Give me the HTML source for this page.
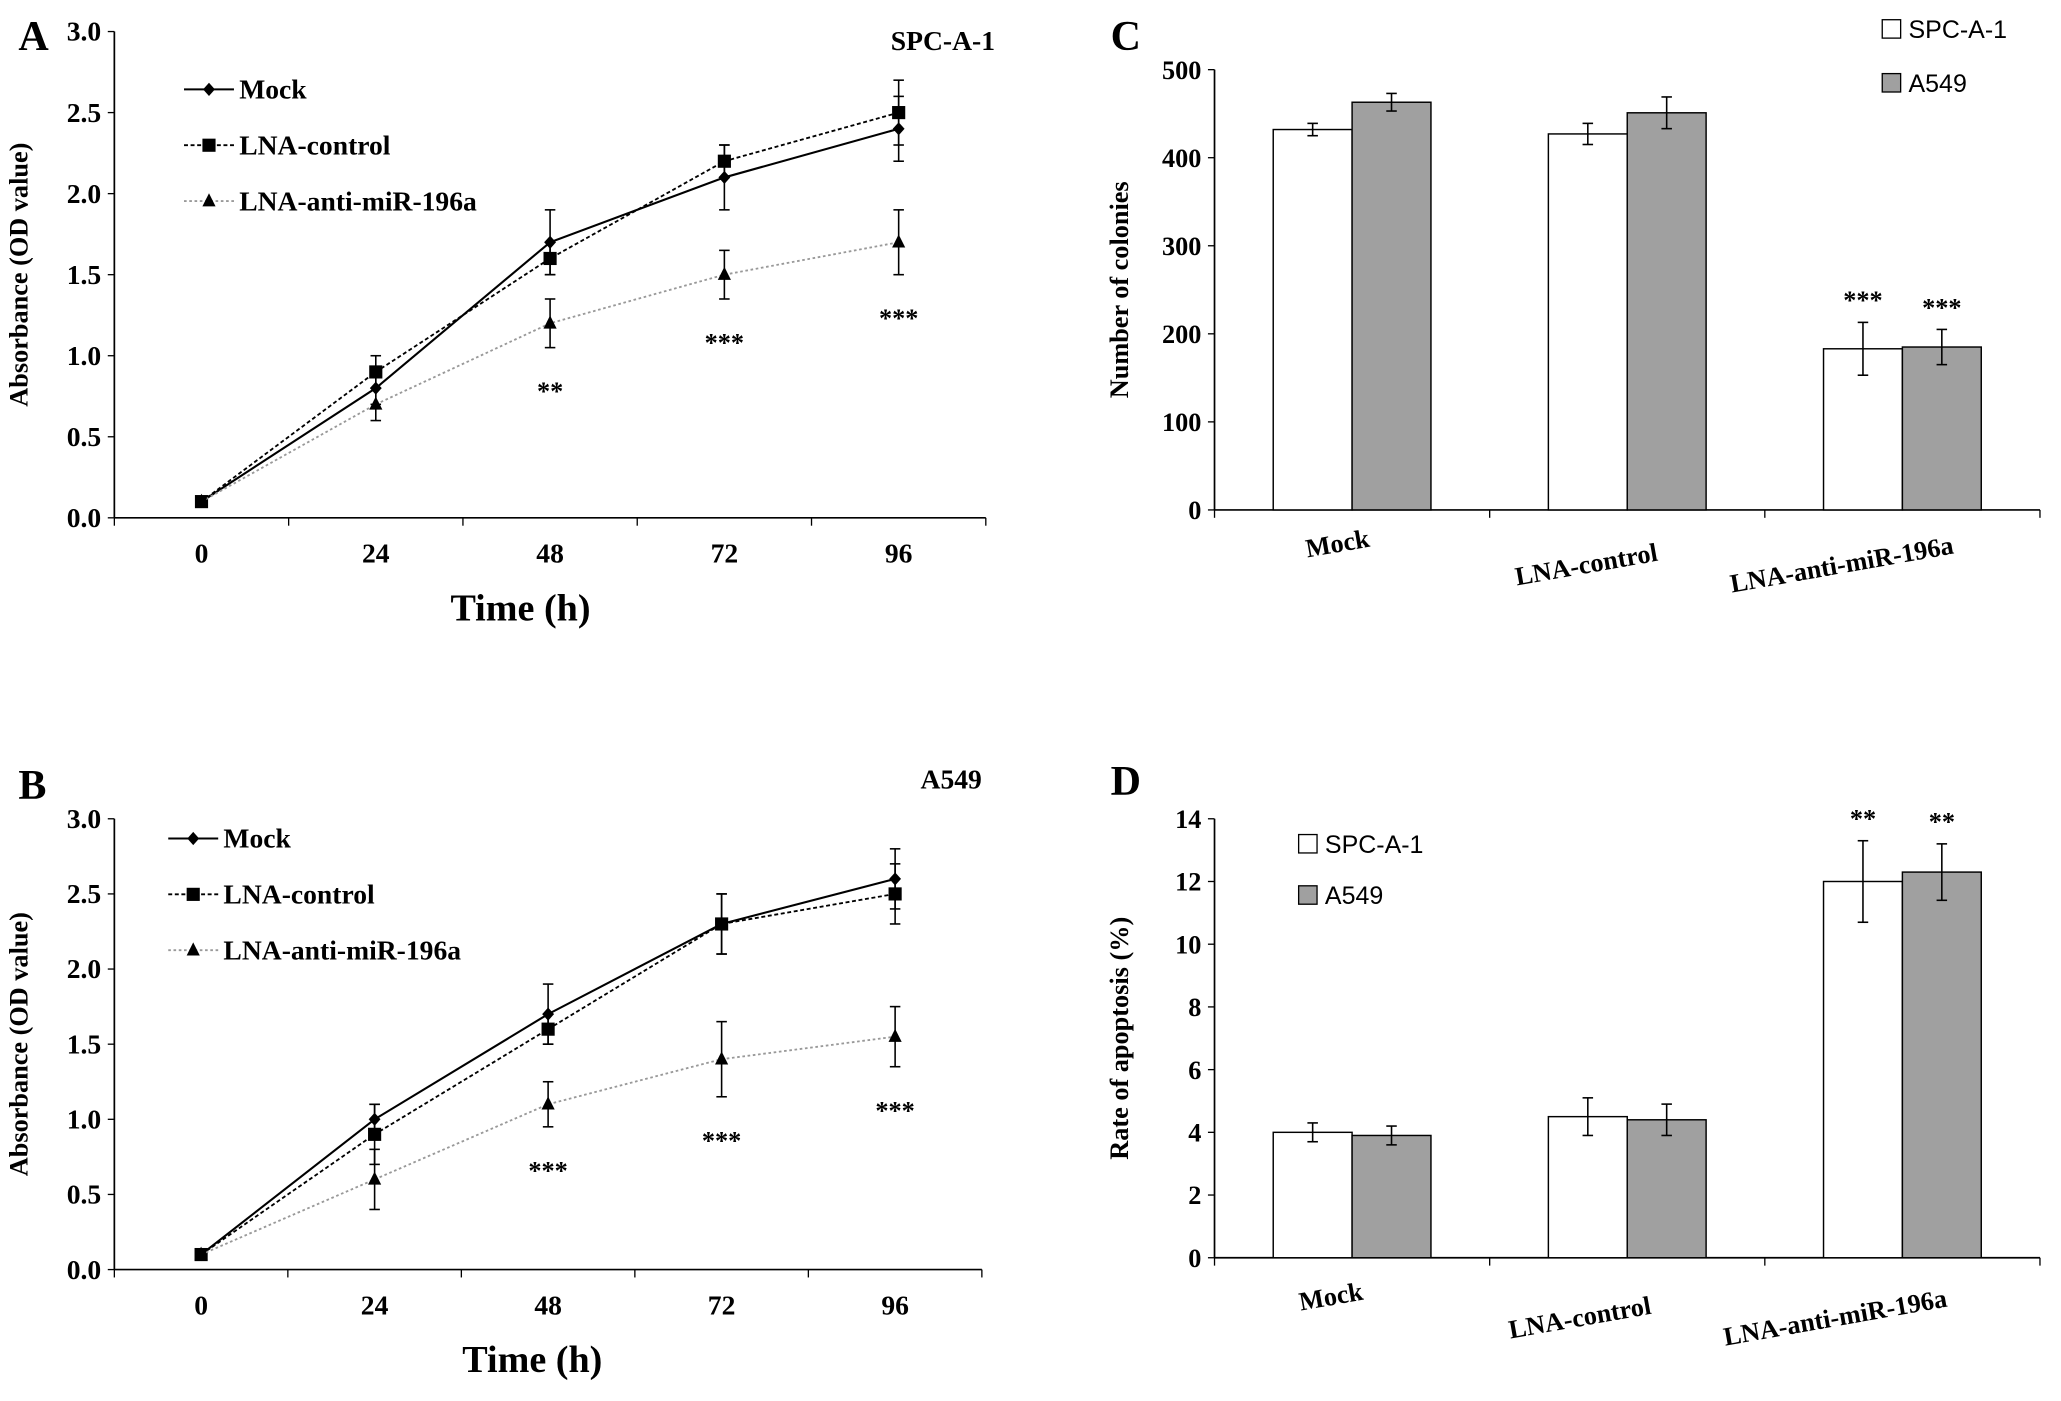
<!DOCTYPE html>
<html><head><meta charset="utf-8"><style>
html,body{margin:0;padding:0;background:#fff}
svg{display:block}
text{font-family:"Liberation Serif",serif;font-weight:bold;fill:#000}
.sans{font-family:"Liberation Sans",sans-serif;font-weight:normal}
</style></head><body>
<svg id="fig" width="2061" height="1401" viewBox="0 0 1568 1066" preserveAspectRatio="none" xmlns="http://www.w3.org/2000/svg"></svg>
<script>
// ---------- Data ----------
const timeLabels = ["0","24","48","72","96"];
const lineTicks = ["0.0","0.5","1.0","1.5","2.0","2.5","3.0"];
const seriesNames = ["Mock","LNA-control","LNA-anti-miR-196a"];
const aMock = [0.1,0.8,1.7,2.1,2.4];
const aMockErr = [0.02,0.1,0.2,0.2,0.2];
const aCtrl = [0.1,0.9,1.6,2.2,2.5];
const aCtrlErr = [0.02,0.1,0.1,0.1,0.2];
const aAnti = [0.1,0.7,1.2,1.5,1.7];
const aAntiErr = [0.02,0.1,0.15,0.15,0.2];
const aStars = ["","","**","***","***"];
const bMock = [0.1,1.0,1.7,2.3,2.6];
const bMockErr = [0.02,0.1,0.2,0.2,0.2];
const bCtrl = [0.1,0.9,1.6,2.3,2.5];
const bCtrlErr = [0.02,0.2,0.1,0.2,0.2];
const bAnti = [0.1,0.6,1.1,1.4,1.55];
const bAntiErr = [0.02,0.2,0.15,0.25,0.2];
const bStars = ["","","***","***","***"];
const groups = ["Mock","LNA-control","LNA-anti-miR-196a"];
const cSPC = [432,427,183];
const cSPCErr = [7,12,30];
const cA549 = [463,451,185];
const cA549Err = [10,18,20];
const cStars = ["","","***"];
const cTicks = [0,100,200,300,400,500];
const dSPC = [4.0,4.5,12.0];
const dSPCErr = [0.3,0.6,1.3];
const dA549 = [3.9,4.4,12.3];
const dA549Err = [0.3,0.5,0.9];
const dStars = ["","","**"];
const dTicks = [0,2,4,6,8,10,12,14];

const NS="http://www.w3.org/2000/svg";
const svg=document.getElementById('fig');
function el(tag,attrs,parent,txt){const e=document.createElementNS(NS,tag);for(const k in attrs)e.setAttribute(k,attrs[k]);if(txt!==undefined)e.textContent=txt;(parent||svg).appendChild(e);return e;}
function T(x,y,s,size,anchor,parent,extra){const e=el('text',Object.assign({x:x,y:y,'font-size':size,'text-anchor':anchor||'start'},extra||{}),parent,s);return e;}

function lineChart(cfg){
  const g=el('g',{});
  
  
  const X0=cfg.x0,X1=cfg.x1,Y0=cfg.y0,Y1=cfg.y1;
  const ys=v=>Y0-(v/3)*(Y0-Y1);
  const step=(X1-X0)/5;
  const xs=i=>X0+step*(i+0.5);
  el('line',{x1:X0,y1:Y1,x2:X0,y2:Y0,stroke:'#000','stroke-width':1.3},g);
  el('line',{x1:X0,y1:Y0,x2:X1,y2:Y0,stroke:'#000','stroke-width':1.3},g);
  lineTicks.forEach((t,i)=>{const y=ys(i*0.5);el('line',{x1:X0-5,y1:y,x2:X0,y2:y,stroke:'#000'},g);
    const tx=T(X0-10,y+7,t,21,'end',g);});
  for(let i=0;i<=5;i++){el('line',{x1:X0+step*i,y1:Y0,x2:X0+step*i,y2:Y0+6,stroke:'#000'},g);}
  timeLabels.forEach((t,i)=>{const tx=T(xs(i),Y0+34,t,21,'middle',g);});
  const xt=T(cfg.timeX,Y0+78,'Time (h)',29,'middle',g);
  const yt=T(0,0,'Absorbance (OD value)',20,'middle',g,{transform:`translate(${X0-66},${(Y0+Y1)/2}) rotate(-90)`});
  
  const styles=[{c:'#000',d:'',m:'diamond',w:1.6},{c:'#000',d:'3,2',m:'square',w:1.4},{c:'#999',d:'2,2',m:'tri',w:1.4}];
  const data=[[cfg.mock,cfg.mockErr],[cfg.ctrl,cfg.ctrlErr],[cfg.anti,cfg.antiErr]];
  function marker(m,x,y,p){
    if(m==='diamond')el('path',{d:`M${x},${y-5}L${x+4.5},${y}L${x},${y+5}L${x-4.5},${y}Z`,fill:'#000'},p);
    else if(m==='square')el('rect',{x:x-5,y:y-5,width:10,height:10,fill:'#000'},p);
    else el('path',{d:`M${x},${y-6}L${x+5},${y+4}L${x-5},${y+4}Z`,fill:'#000'},p);
  }
  data.forEach((d,si)=>{
    const sg=el('g',{},g);
    
    
    const st=styles[si];
    el('polyline',{points:d[0].map((v,i)=>xs(i)+','+ys(v)).join(' '),fill:'none',stroke:st.c,'stroke-width':st.w,'stroke-dasharray':st.d},sg);
    d[0].forEach((v,i)=>{const x=xs(i),e=d[1][i];
      el('line',{x1:x,y1:ys(v-e),x2:x,y2:ys(v+e),stroke:'#000','stroke-width':1.2},sg);
      el('line',{x1:x-4,y1:ys(v-e),x2:x+4,y2:ys(v-e),stroke:'#000','stroke-width':1.2},sg);
      el('line',{x1:x-4,y1:ys(v+e),x2:x+4,y2:ys(v+e),stroke:'#000','stroke-width':1.2},sg);
      marker(st.m,x,ys(v),sg);});
  });
  cfg.stars.forEach((s,i)=>{if(!s)return;const y=ys(cfg.anti[i]-cfg.antiErr[i])+40;
    const tx=T(xs(i),y,s,20,'middle',g);});
  seriesNames.forEach((n,i)=>{const lg=el('g',{},g);
    
    const y=cfg.legY+i*42.5,st=styles[i];
    el('line',{x1:cfg.legX,y1:y,x2:cfg.legX+38,y2:y,stroke:st.c,'stroke-width':st.w,'stroke-dasharray':st.d},lg);
    marker(st.m,cfg.legX+19,y,lg);
    T(cfg.legX+42,y+7,n,21,'start',lg);});
  const pl=T(14,cfg.letterY,cfg.letter,32,'start',g);
  const ct=T(cfg.titleX,cfg.titleY,cfg.title,21,'end',g);
}

lineChart({name:'panel-a-chart',x0:87,x1:750,y0:394,y1:24,mock:aMock,mockErr:aMockErr,ctrl:aCtrl,ctrlErr:aCtrlErr,anti:aAnti,antiErr:aAntiErr,stars:aStars,legX:140,legY:68,letter:'A',letterY:38,title:'SPC-A-1',titleX:757,titleY:38,timeX:396});
lineChart({name:'panel-b-chart',x0:87,x1:747,y0:966,y1:623,mock:bMock,mockErr:bMockErr,ctrl:bCtrl,ctrlErr:bCtrlErr,anti:bAnti,antiErr:bAntiErr,stars:bStars,legX:128,legY:638,letter:'B',letterY:608,title:'A549',titleX:747,titleY:600,timeX:405});

function barChart(cfg){
  const g=el('g',{});
  
  
  const X0=924,X1=1552,Y0=cfg.y0,Y1=cfg.y1,max=cfg.ticks[cfg.ticks.length-1];
  const ys=v=>Y0-(v/max)*(Y0-Y1);
  const step=(X1-X0)/3,bw=60;
  const labDx=[-10,-30,-45],labDy=[32,48,48];
  el('line',{x1:X0,y1:Y1,x2:X0,y2:Y0,stroke:'#000','stroke-width':1.3},g);
  el('line',{x1:X0,y1:Y0,x2:X1,y2:Y0,stroke:'#000','stroke-width':1.3},g);
  cfg.ticks.forEach(t=>{const y=ys(t);el('line',{x1:X0-5,y1:y,x2:X0,y2:y,stroke:'#000'},g);
    const tx=T(X0-10,y+7,String(t),20,'end',g);});
  for(let i=0;i<=3;i++)el('line',{x1:X0+step*i,y1:Y0,x2:X0+step*i,y2:Y0+6,stroke:'#000'},g);
  const yt=T(0,0,cfg.ylabel,20,'middle',g,{transform:`translate(${858},${(Y0+Y1)/2}) rotate(-90)`});
  
  groups.forEach((gn,i)=>{const cx=X0+step*(i+0.5);
    [[cfg.s1,cfg.e1,'#fff',cx-bw],[cfg.s2,cfg.e2,'#a0a0a0',cx]].forEach((s,k)=>{
      const v=s[0][i],e=s[1][i],x=s[3];
      const r=el('rect',{x:x,y:ys(v),width:bw,height:Y0-ys(v),fill:s[2],stroke:'#000','stroke-width':1.1},g);
      
      const bx=x+bw/2;
      el('line',{x1:bx,y1:ys(v-e),x2:bx,y2:ys(v+e),stroke:'#000','stroke-width':1.2},g);
      el('line',{x1:bx-4,y1:ys(v-e),x2:bx+4,y2:ys(v-e),stroke:'#000','stroke-width':1.2},g);
      el('line',{x1:bx-4,y1:ys(v+e),x2:bx+4,y2:ys(v+e),stroke:'#000','stroke-width':1.2},g);
      if(cfg.stars[i]){const st=T(bx,ys(v+e)-10,cfg.stars[i],20,'middle',g);}
    });
    const lb=T(0,0,gn,20,'middle',g,{transform:`translate(${cx+labDx[i]-cfg.labShift},${Y0+labDy[i]+cfg.labDown}) rotate(-10)`});
    
  });
  [['SPC-A-1','#fff'],['A549','#a0a0a0']].forEach((l,i)=>{const lg=el('g',{},g);
    
    const y=cfg.legY+i*cfg.legGap;
    el('rect',{x:cfg.legX,y:y-7,width:14,height:14,fill:l[1],stroke:'#000'},lg);
    T(cfg.legX+20,y+7,l[0],19,'start',lg,{class:'sans'});});
  const pl=T(845,cfg.letterY,cfg.letter,32,'start',g);
}
barChart({name:'panel-c-chart',y0:388,y1:53,ticks:cTicks,s1:cSPC,e1:cSPCErr,s2:cA549,e2:cA549Err,stars:cStars,ylabel:'Number of colonies',legX:1432,legY:22,legGap:41,letter:'C',letterY:38,labShift:0,labDown:0});
barChart({name:'panel-d-chart',y0:957,y1:623,ticks:dTicks,s1:dSPC,e1:dSPCErr,s2:dA549,e2:dA549Err,stars:dStars,ylabel:'Rate of apoptosis (%)',legX:988,legY:642,legGap:39,letter:'D',letterY:605,labShift:5,labDown:4});
</script>
</body></html>
